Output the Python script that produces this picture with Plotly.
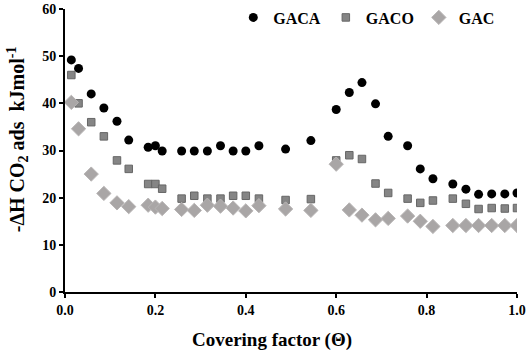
import plotly.graph_objects as go

theta = [0.014, 0.030, 0.058, 0.086, 0.115, 0.141, 0.184, 0.200, 0.215, 0.258,
         0.286, 0.315, 0.344, 0.372, 0.400, 0.429, 0.488, 0.544, 0.600, 0.629,
         0.657, 0.687, 0.715, 0.758, 0.786, 0.814, 0.858, 0.887, 0.915, 0.944,
         0.973, 1.000]

gaca = [49.2, 47.4, 42.0, 39.0, 36.2, 32.2, 30.7, 31.0, 29.9, 29.9,
        29.9, 29.9, 31.0, 29.9, 29.9, 31.0, 30.3, 32.1, 38.7, 42.3,
        44.4, 39.9, 33.0, 31.0, 26.1, 24.0, 22.9, 21.8, 20.7, 20.8,
        20.8, 21.0]

gaco = [46.0, 40.0, 36.0, 33.0, 27.9, 26.1, 22.9, 22.9, 21.9, 19.8,
        20.4, 19.8, 19.8, 20.4, 20.4, 19.8, 19.5, 19.7, 27.9, 29.0,
        28.2, 23.0, 21.0, 19.8, 18.9, 19.4, 19.8, 18.7, 17.6, 17.8,
        17.7, 17.8]

gac = [40.2, 34.6, 25.0, 20.9, 18.9, 18.1, 18.4, 18.0, 17.7, 17.5,
       17.3, 18.4, 18.2, 17.8, 17.2, 18.3, 17.6, 17.3, 27.1, 17.4,
       16.3, 15.3, 15.6, 16.1, 15.0, 13.9, 14.1, 14.1, 14.1, 14.1,
       14.1, 14.1]

x_ticks = [0.0, 0.2, 0.4, 0.6, 0.8, 1.0]
x_tick_labels = ["0.0", "0.2", "0.4", "0.6", "0.8", "1.0"]
y_ticks = [0, 10, 20, 30, 40, 50, 60]
y_tick_labels = ["0", "10", "20", "30", "40", "50", "60"]
x_title = "Covering factor (Θ)"
y_title = "-ΔH CO<sub>2</sub> ads\u00a0\u00a0kJmol<sup>-1</sup>"

font_family = "Liberation Serif"
bold_tick = dict(size=14, family=font_family, color="black", weight="bold")
x_title_font = dict(size=19, family=font_family, color="black", weight="bold")
y_title_font = dict(size=20, family=font_family, color="black", weight="bold")

fig = go.Figure()
fig.add_trace(go.Scatter(
    x=theta, y=gaca, mode="markers", name="GACA",
    marker=dict(symbol="circle", size=9, color="#000000",
                line=dict(width=0)),
))
fig.add_trace(go.Scatter(
    x=theta, y=gaco, mode="markers", name="GACO",
    marker=dict(symbol="square", size=7.5, color="#858585",
                line=dict(width=1, color="#666666")),
))
fig.add_trace(go.Scatter(
    x=theta, y=gac, mode="markers", name="GAC",
    marker=dict(symbol="diamond", size=11, color="#a9a6a6",
                line=dict(width=1, color="#b8b5b5")),
))

fig.update_layout(
    width=529, height=358,
    margin=dict(l=65, r=12, t=9, b=66, autoexpand=False),
    paper_bgcolor="white", plot_bgcolor="white",
    font=dict(family=font_family, color="black", size=14),
    showlegend=True,
    legend=dict(orientation="h", x=0.963, xanchor="right", y=1.03, yanchor="top",
                font=dict(size=16, family=font_family, color="black", weight="bold"),
                itemwidth=30, tracegroupgap=0, bgcolor="rgba(0,0,0,0)"),
    xaxis=dict(
        range=[0, 1.0], tickvals=x_ticks, ticktext=x_tick_labels,
        showgrid=False, zeroline=False, showline=True, linecolor="black",
        linewidth=2, ticks="outside", ticklen=4, tickwidth=2, tickcolor="black",
        tickfont=bold_tick, automargin=False,
    ),
    yaxis=dict(
        range=[0, 60], tickvals=y_ticks, ticktext=y_tick_labels,
        showgrid=False, zeroline=False, showline=True, linecolor="black",
        linewidth=2, ticks="outside", ticklen=4, tickwidth=2, tickcolor="black",
        tickfont=bold_tick, automargin=False,
    ),
    annotations=[
        dict(text=x_title, xref="paper", yref="paper", x=0.458, y=-0.17,
             xanchor="center", yanchor="middle", showarrow=False,
             font=x_title_font),
        dict(text=y_title, xref="paper", yref="paper", x=-0.104, y=0.54,
             xanchor="center", yanchor="middle", showarrow=False,
             textangle=-90, font=y_title_font),
    ],
)

fig.write_html("out.html", config={"displayModeBar": False},
               post_script="document.body.style.margin='0px';")
